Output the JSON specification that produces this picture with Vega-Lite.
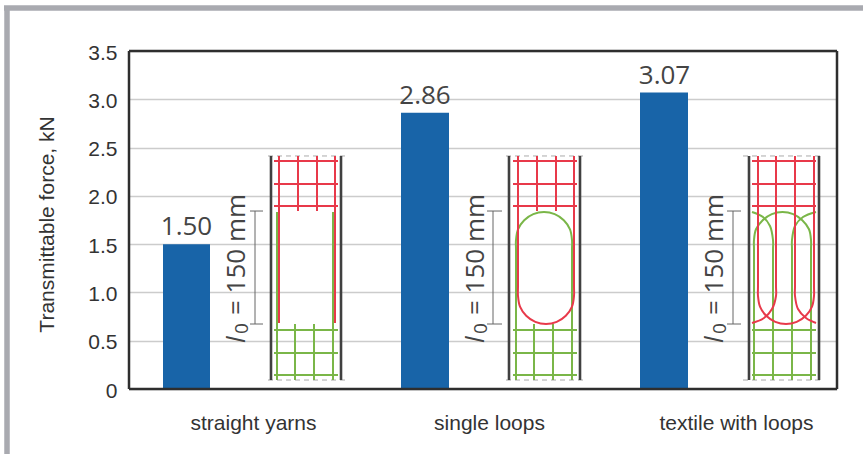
{
"$schema":"https://vega.github.io/schema/vega-lite/v6.json",
"width":708,"height":338,"autosize":"none",
"padding":{"left":129,"top":51,"right":26,"bottom":65},
"background":"white",
"config":{"font":"Liberation Sans","view":{"stroke":null}},
"datasets":{
"bars":[{"group":"straight yarns","force":1.50,"from":34,"to":81,"mid":57.5},{"group":"single loops","force":2.86,"from":272,"to":320,"mid":296},{"group":"textile with loops","force":3.07,"from":511,"to":559,"mid":535.5}],
"segments":[
{"kind":"frame","x":-122,"x2":-122,"y":3.945,"y2":-0.74},
{"kind":"frame","x":-125,"x2":734,"y":3.945,"y2":3.945},
{"kind":"box","x":0,"x2":708,"y":3.5,"y2":3.5},{"kind":"box","x":0,"x2":708,"y":0,"y2":0},{"kind":"box","x":0,"x2":0,"y":3.5,"y2":0},{"kind":"box","x":708,"x2":708,"y":3.5,"y2":0},
{"kind":"dim","x":126,"x2":126,"y":1.843,"y2":0.673},{"kind":"dim","x":121,"x2":134,"y":1.843,"y2":1.843},{"kind":"dim","x":121,"x2":134,"y":0.673,"y2":0.673},
{"kind":"dim","x":364,"x2":364,"y":1.843,"y2":0.673},{"kind":"dim","x":358,"x2":373,"y":1.843,"y2":1.843},{"kind":"dim","x":358,"x2":373,"y":0.673,"y2":0.673},
{"kind":"dim","x":604,"x2":604,"y":1.843,"y2":0.673},{"kind":"dim","x":598,"x2":612,"y":1.843,"y2":1.843},{"kind":"dim","x":598,"x2":612,"y":0.673,"y2":0.673},
{"kind":"dash","x":139,"x2":216,"y":2.413,"y2":2.413},{"kind":"dash","x":139,"x2":216,"y":0.093,"y2":0.093},
{"kind":"dash","x":377,"x2":455,"y":2.413,"y2":2.413},{"kind":"dash","x":377,"x2":455,"y":0.093,"y2":0.093},
{"kind":"dash","x":614,"x2":693,"y":2.413,"y2":2.413},{"kind":"dash","x":614,"x2":693,"y":0.093,"y2":0.093},
{"kind":"green","x":148,"x2":148,"y":1.833,"y2":0.093},{"kind":"green","x":166,"x2":166,"y":0.673,"y2":0.093},{"kind":"green","x":185,"x2":185,"y":0.673,"y2":0.093},{"kind":"green","x":204,"x2":204,"y":1.833,"y2":0.093},
{"kind":"green","x":145,"x2":209,"y":0.611,"y2":0.611},{"kind":"green","x":145,"x2":209,"y":0.373,"y2":0.373},{"kind":"green","x":145,"x2":209,"y":0.145,"y2":0.145},
{"kind":"green","x":405,"x2":405,"y":0.673,"y2":0.093},{"kind":"green","x":424,"x2":424,"y":0.673,"y2":0.093},
{"kind":"green","x":384,"x2":448,"y":0.611,"y2":0.611},{"kind":"green","x":384,"x2":448,"y":0.373,"y2":0.373},{"kind":"green","x":384,"x2":448,"y":0.145,"y2":0.145},
{"kind":"green","x":623,"x2":687,"y":0.611,"y2":0.611},{"kind":"green","x":623,"x2":687,"y":0.373,"y2":0.373},{"kind":"green","x":623,"x2":687,"y":0.145,"y2":0.145},
{"kind":"red","x":150,"x2":150,"y":2.413,"y2":0.683},{"kind":"red","x":169,"x2":169,"y":2.413,"y2":1.843},{"kind":"red","x":188,"x2":188,"y":2.413,"y2":1.843},{"kind":"red","x":206,"x2":206,"y":2.413,"y2":0.683},
{"kind":"red","x":145,"x2":209,"y":2.361,"y2":2.361},{"kind":"red","x":145,"x2":209,"y":2.123,"y2":2.123},{"kind":"red","x":145,"x2":209,"y":1.895,"y2":1.895},
{"kind":"red","x":408,"x2":408,"y":2.413,"y2":1.843},{"kind":"red","x":427,"x2":427,"y":2.413,"y2":1.843},
{"kind":"red","x":384,"x2":448,"y":2.361,"y2":2.361},{"kind":"red","x":384,"x2":448,"y":2.123,"y2":2.123},{"kind":"red","x":384,"x2":448,"y":1.895,"y2":1.895},
{"kind":"red","x":623,"x2":687,"y":2.361,"y2":2.361},{"kind":"red","x":623,"x2":687,"y":2.123,"y2":2.123},{"kind":"red","x":623,"x2":687,"y":1.895,"y2":1.895},
{"kind":"black","x":142,"x2":142,"y":2.413,"y2":0.093},{"kind":"black","x":212,"x2":212,"y":2.413,"y2":0.093},
{"kind":"black","x":380,"x2":380,"y":2.413,"y2":0.093},{"kind":"black","x":451,"x2":451,"y":2.413,"y2":0.093},
{"kind":"black","x":620,"x2":620,"y":2.413,"y2":0.093},{"kind":"black","x":690,"x2":690,"y":2.413,"y2":0.093}
],
"loops":[
{"kind":"green","id":"g2","n":1,"x":387,"y":0.093},{"kind":"green","id":"g2","n":2,"x":387,"y":1.439},{"kind":"green","id":"g2","n":3,"x":387,"y":1.543},{"kind":"green","id":"g2","n":4,"x":389,"y":1.654},{"kind":"green","id":"g2","n":5,"x":395.2,"y":1.748},{"kind":"green","id":"g2","n":6,"x":404.3,"y":1.811},{"kind":"green","id":"g2","n":7,"x":415,"y":1.833},{"kind":"green","id":"g2","n":8,"x":425.7,"y":1.811},{"kind":"green","id":"g2","n":9,"x":434.8,"y":1.748},{"kind":"green","id":"g2","n":10,"x":441,"y":1.654},{"kind":"green","id":"g2","n":11,"x":443,"y":1.543},{"kind":"green","id":"g2","n":12,"x":443,"y":1.439},{"kind":"green","id":"g2","n":13,"x":443,"y":0.093},
{"kind":"green","id":"g3","n":1,"x":625,"y":0.093},{"kind":"green","id":"g3","n":2,"x":625,"y":1.439},{"kind":"green","id":"g3","n":3,"x":625,"y":1.543},{"kind":"green","id":"g3","n":4,"x":627,"y":1.654},{"kind":"green","id":"g3","n":5,"x":633.7,"y":1.748},{"kind":"green","id":"g3","n":6,"x":642.8,"y":1.811},{"kind":"green","id":"g3","n":7,"x":653.5,"y":1.833},{"kind":"green","id":"g3","n":8,"x":664.2,"y":1.811},{"kind":"green","id":"g3","n":9,"x":673.3,"y":1.748},{"kind":"green","id":"g3","n":10,"x":680,"y":1.654},{"kind":"green","id":"g3","n":11,"x":682,"y":1.543},{"kind":"green","id":"g3","n":12,"x":682,"y":1.439},{"kind":"green","id":"g3","n":13,"x":682,"y":0.093},
{"kind":"green","id":"g3l","n":1,"x":623,"y":1.833},{"kind":"green","id":"g3l","n":2,"x":634,"y":1.781},{"kind":"green","id":"g3l","n":3,"x":641,"y":1.688},{"kind":"green","id":"g3l","n":4,"x":644,"y":1.543},{"kind":"green","id":"g3l","n":5,"x":644,"y":1.439},{"kind":"green","id":"g3l","n":6,"x":644,"y":0.093},
{"kind":"green","id":"g3r","n":1,"x":687,"y":1.833},{"kind":"green","id":"g3r","n":2,"x":674,"y":1.781},{"kind":"green","id":"g3r","n":3,"x":666,"y":1.688},{"kind":"green","id":"g3r","n":4,"x":663,"y":1.543},{"kind":"green","id":"g3r","n":5,"x":663,"y":1.439},{"kind":"green","id":"g3r","n":6,"x":663,"y":0.093},
{"kind":"red","id":"r2","n":1,"x":389,"y":2.413},{"kind":"red","id":"r2","n":2,"x":389,"y":1.067},{"kind":"red","id":"r2","n":3,"x":389,"y":0.963},{"kind":"red","id":"r2","n":4,"x":391,"y":0.852},{"kind":"red","id":"r2","n":5,"x":397.2,"y":0.758},{"kind":"red","id":"r2","n":6,"x":406.3,"y":0.695},{"kind":"red","id":"r2","n":7,"x":417,"y":0.673},{"kind":"red","id":"r2","n":8,"x":427.7,"y":0.695},{"kind":"red","id":"r2","n":9,"x":436.8,"y":0.758},{"kind":"red","id":"r2","n":10,"x":443,"y":0.852},{"kind":"red","id":"r2","n":11,"x":445,"y":0.963},{"kind":"red","id":"r2","n":12,"x":445,"y":1.067},{"kind":"red","id":"r2","n":13,"x":445,"y":2.413},
{"kind":"red","id":"r3","n":1,"x":629,"y":2.413},{"kind":"red","id":"r3","n":2,"x":629,"y":1.067},{"kind":"red","id":"r3","n":3,"x":629,"y":0.963},{"kind":"red","id":"r3","n":4,"x":631,"y":0.852},{"kind":"red","id":"r3","n":5,"x":637.2,"y":0.758},{"kind":"red","id":"r3","n":6,"x":646.3,"y":0.695},{"kind":"red","id":"r3","n":7,"x":657,"y":0.673},{"kind":"red","id":"r3","n":8,"x":667.7,"y":0.695},{"kind":"red","id":"r3","n":9,"x":676.8,"y":0.758},{"kind":"red","id":"r3","n":10,"x":683,"y":0.852},{"kind":"red","id":"r3","n":11,"x":685,"y":0.963},{"kind":"red","id":"r3","n":12,"x":685,"y":1.067},{"kind":"red","id":"r3","n":13,"x":685,"y":2.413},
{"kind":"red","id":"r3l","n":1,"x":623,"y":0.683},{"kind":"red","id":"r3l","n":2,"x":635,"y":0.735},{"kind":"red","id":"r3l","n":3,"x":643,"y":0.828},{"kind":"red","id":"r3l","n":4,"x":647,"y":0.963},{"kind":"red","id":"r3l","n":5,"x":647,"y":1.067},{"kind":"red","id":"r3l","n":6,"x":647,"y":2.413},
{"kind":"red","id":"r3r","n":1,"x":687,"y":0.683},{"kind":"red","id":"r3r","n":2,"x":677,"y":0.735},{"kind":"red","id":"r3r","n":3,"x":669,"y":0.828},{"kind":"red","id":"r3r","n":4,"x":666,"y":0.963},{"kind":"red","id":"r3r","n":5,"x":666,"y":1.067},{"kind":"red","id":"r3r","n":6,"x":666,"y":2.413}
],
"lengths":[{"x":108,"xs":113,"xl":108},{"x":347,"xs":352,"xl":347},{"x":586,"xs":591,"xl":586}]
},
"layer":[
{"data":{"name":"bars"},"mark":{"type":"bar","color":"#1864a8"},
"encoding":{
"x":{"field":"from","type":"quantitative","scale":{"domain":[0,708],"nice":false,"zero":false},
"axis":{"title":null,"values":[124,360,607],"labelExpr":"datum.value==124?'straight yarns':datum.value==360?'single loops':'textile with loops'","grid":false,"ticks":false,"domain":false,"labelPadding":23,"labelFontSize":21,"labelColor":"#333333","labelFont":"Liberation Sans"}},
"x2":{"field":"to"},
"y":{"field":"force","type":"quantitative","scale":{"domain":[0,3.5],"nice":false},
"axis":{"title":"Transmittable force, kN","titleFontSize":21,"titleFontWeight":"normal","titleColor":"#333333","titleFont":"Liberation Sans","titleX":-72,"titleY":173,"values":[0,0.5,1,1.5,2,2.5,3,3.5],"labelExpr":"datum.value==0?'0':format(datum.value,'.1f')","labelFontSize":21,"labelColor":"#333333","labelPadding":12,"labelOffset":2,"ticks":false,"domain":false,"grid":true,"gridColor":"#cccccc","gridWidth":1.5}},
"y2":{"datum":0}}},
{"data":{"name":"bars"},"mark":{"type":"text","font":"Open Sans","fontSize":26,"color":"#444444","baseline":"alphabetic","dy":-9},
"encoding":{"x":{"field":"mid","type":"quantitative"},"y":{"field":"force","type":"quantitative"},"text":{"field":"force","type":"quantitative","format":".2f"}}},
{"data":{"name":"segments"},"transform":[{"filter":"datum.kind=='frame'"}],"mark":{"type":"rule","strokeWidth":5.5,"color":"#a9aab0"},
"encoding":{"x":{"field":"x","type":"quantitative"},"x2":{"field":"x2"},"y":{"field":"y","type":"quantitative"},"y2":{"field":"y2"}}},
{"data":{"name":"segments"},"transform":[{"filter":"datum.kind=='box'"}],"mark":{"type":"rule","strokeWidth":2.5,"color":"#2e2e2e"},
"encoding":{"x":{"field":"x","type":"quantitative"},"x2":{"field":"x2"},"y":{"field":"y","type":"quantitative"},"y2":{"field":"y2"}}},
{"data":{"name":"segments"},"transform":[{"filter":"datum.kind=='dim'"}],"mark":{"type":"rule","strokeWidth":1,"color":"#666666"},
"encoding":{"x":{"field":"x","type":"quantitative"},"x2":{"field":"x2"},"y":{"field":"y","type":"quantitative"},"y2":{"field":"y2"}}},
{"data":{"name":"segments"},"transform":[{"filter":"datum.kind=='dash'"}],"mark":{"type":"rule","strokeWidth":1,"color":"#aaaaaa","strokeDash":[5,4]},
"encoding":{"x":{"field":"x","type":"quantitative"},"x2":{"field":"x2"},"y":{"field":"y","type":"quantitative"},"y2":{"field":"y2"}}},
{"data":{"name":"segments"},"transform":[{"filter":"datum.kind=='green'"}],"mark":{"type":"rule","strokeWidth":2,"color":"#7ab648"},
"encoding":{"x":{"field":"x","type":"quantitative"},"x2":{"field":"x2"},"y":{"field":"y","type":"quantitative"},"y2":{"field":"y2"}}},
{"data":{"name":"segments"},"transform":[{"filter":"datum.kind=='red'"}],"mark":{"type":"rule","strokeWidth":2,"color":"#e8394a"},
"encoding":{"x":{"field":"x","type":"quantitative"},"x2":{"field":"x2"},"y":{"field":"y","type":"quantitative"},"y2":{"field":"y2"}}},
{"data":{"name":"loops"},"mark":{"type":"line","interpolate":"catmull-rom","strokeWidth":2},
"encoding":{"x":{"field":"x","type":"quantitative"},"y":{"field":"y","type":"quantitative"},"order":{"field":"n","type":"quantitative"},"detail":{"field":"id"},
"color":{"field":"kind","type":"nominal","legend":null,"scale":{"domain":["green","red"],"range":["#7ab648","#e8394a"]}}}},
{"data":{"name":"segments"},"transform":[{"filter":"datum.kind=='black'"}],"mark":{"type":"rule","strokeWidth":2.6,"color":"#404040"},
"encoding":{"x":{"field":"x","type":"quantitative"},"x2":{"field":"x2"},"y":{"field":"y","type":"quantitative"},"y2":{"field":"y2"}}},
{"data":{"name":"lengths"},"mark":{"type":"text","font":"Open Sans","fontSize":26,"color":"#444444","angle":270,"align":"left","baseline":"middle"},
"encoding":{"x":{"field":"x","type":"quantitative"},"y":{"datum":0.766},"text":{"value":"= 150 mm"}}},
{"data":{"name":"lengths"},"mark":{"type":"text","font":"Open Sans","fontSize":26,"fontStyle":"italic","color":"#444444","angle":270,"align":"left","baseline":"middle"},
"encoding":{"x":{"field":"xl","type":"quantitative"},"y":{"datum":0.476},"text":{"value":"l"}}},
{"data":{"name":"lengths"},"mark":{"type":"text","font":"Open Sans","fontSize":19,"color":"#444444","angle":270,"align":"left","baseline":"middle"},
"encoding":{"x":{"field":"xs","type":"quantitative"},"y":{"datum":0.57},"text":{"value":"0"}}}
]
}
